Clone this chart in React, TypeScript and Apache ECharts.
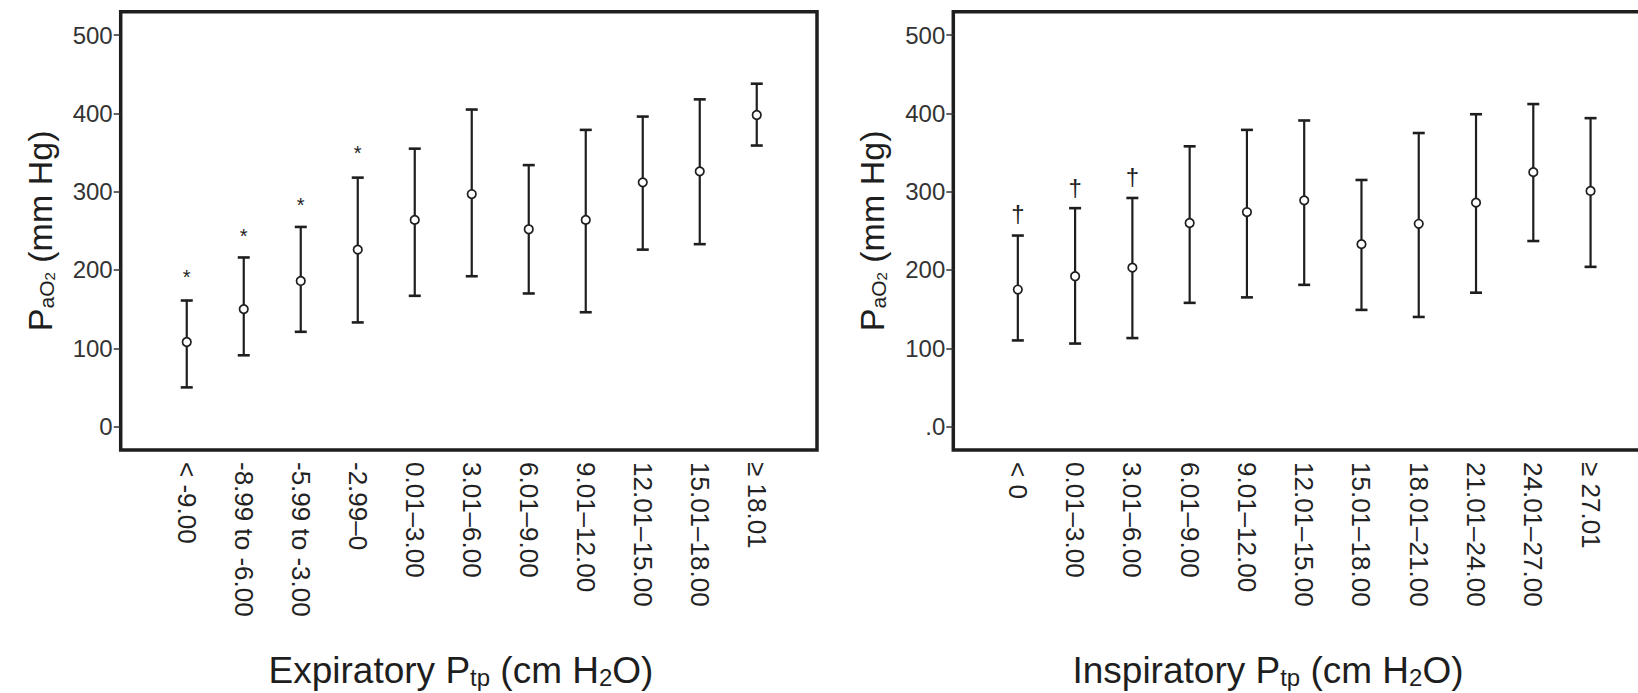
import React, { useEffect, useRef } from 'react';
import * as echarts from 'echarts';

// ---------- data ----------
const expCategories = ['< -9.00', '-8.99 to -6.00', '-5.99 to -3.00', '-2.99–0', '0.01–3.00', '3.01–6.00', '6.01–9.00', '9.01–12.00', '12.01–15.00', '15.01–18.00', '≥ 18.01'];
const expMean = [108, 150, 186, 226, 264, 297, 252, 264, 312, 326, 398];
const expUpper = [161, 216, 255, 318, 355, 405, 334, 379, 396, 418, 438];
const expLower = [50, 91, 121, 133, 167, 192, 170, 146, 226, 233, 359];
const expMarks = ['*', '*', '*', '*', '', '', '', '', '', '', ''];
const expMarkY = [191, 243, 283, 350, 0, 0, 0, 0, 0, 0, 0];

const insCategories = ['< 0', '0.01–3.00', '3.01–6.00', '6.01–9.00', '9.01–12.00', '12.01–15.00', '15.01–18.00', '18.01–21.00', '21.01–24.00', '24.01–27.00', '≥ 27.01'];
const insMean = [175, 192, 203, 260, 274, 289, 233, 259, 286, 325, 301];
const insUpper = [244, 279, 292, 358, 379, 391, 315, 375, 399, 412, 394];
const insLower = [110, 106, 113, 158, 165, 181, 149, 140, 171, 237, 204];
const insMarks = ['†', '†', '†', '', '', '', '', '', '', '', ''];
const insMarkY = [272, 306, 319, 0, 0, 0, 0, 0, 0, 0, 0];

const yTickValues = [0, 100, 200, 300, 400, 500];
const expYTickLabels = ['0', '100', '200', '300', '400', '500'];
const insYTickLabels = ['.0', '100', '200', '300', '400', '500'];
const yMin = -30;
const yMax = 530;

const FONT = 'Liberation Sans, Arial, Helvetica, sans-serif';
const INK = '#1e1e1e';

const nameRich = {
  p: { fontSize: 34, lineHeight: 38, verticalAlign: 'bottom', fontFamily: FONT, color: INK },
  s: { fontSize: 21, lineHeight: 18, verticalAlign: 'bottom', fontFamily: FONT, color: INK },
  ss: { fontSize: 15, lineHeight: 8, verticalAlign: 'bottom', fontFamily: FONT, color: INK },
};
const titleRich = {
  p: { fontSize: 37, lineHeight: 42, verticalAlign: 'bottom', fontFamily: FONT, fill: INK, color: INK },
  s: { fontSize: 24, lineHeight: 18, verticalAlign: 'bottom', fontFamily: FONT, fill: INK, color: INK },
};

function errorBarSeries(xAxisIndex: number, yAxisIndex: number, lower: number[], upper: number[]) {
  return {
    type: 'custom',
    xAxisIndex,
    yAxisIndex,
    clip: false,
    itemStyle: { color: INK },
    data: lower.map((l, i) => [i, l, upper[i]]),
    renderItem: (params: any, api: any) => {
      const lo = api.coord([api.value(0), api.value(1)]);
      const hi = api.coord([api.value(0), api.value(2)]);
      const w = 6;
      const st = { stroke: INK, lineWidth: 2.2 };
      const cap = { stroke: INK, lineWidth: 2.6 };
      return {
        type: 'group',
        children: [
          { type: 'line', shape: { x1: hi[0], y1: hi[1], x2: lo[0], y2: lo[1] }, style: st },
          { type: 'line', shape: { x1: hi[0] - w, y1: hi[1], x2: hi[0] + w, y2: hi[1] }, style: cap },
          { type: 'line', shape: { x1: lo[0] - w, y1: lo[1], x2: lo[0] + w, y2: lo[1] }, style: cap },
        ],
      };
    },
  };
}

function meanSeries(xAxisIndex: number, yAxisIndex: number, mean: number[]) {
  return {
    type: 'scatter',
    xAxisIndex,
    yAxisIndex,
    symbol: 'circle',
    symbolSize: 8.5,
    itemStyle: { color: '#ffffff', borderColor: INK, borderWidth: 1.7, opacity: 1 },
    data: mean.map((m, i) => [i, m]),
    z: 5,
  };
}

function markSeries(xAxisIndex: number, yAxisIndex: number, marks: string[], markY: number[], fontSize: number) {
  return {
    type: 'custom',
    xAxisIndex,
    yAxisIndex,
    clip: false,
    itemStyle: { color: INK },
    data: marks.map((m, i) => [i, markY[i]]).filter((_, i) => marks[i] !== ''),
    renderItem: (params: any, api: any) => {
      const idx = api.value(0);
      const pt = api.coord([idx, api.value(1)]);
      return {
        type: 'text',
        x: pt[0],
        y: pt[1],
        style: {
          text: marks[idx],
          fill: INK,
          font: `${fontSize}px ${FONT}`,
          align: 'center',
          verticalAlign: 'middle',
        },
      };
    },
  };
}

function boxYAxis(gridIndex: number, labels: string[]) {
  return {
    gridIndex,
    type: 'value',
    min: yMin,
    max: yMax,
    position: 'left',
    axisLine: { show: false },
    splitLine: { show: false },
    axisTick: { show: true, length: 7, inside: false, customValues: yTickValues, lineStyle: { color: '#333', width: 1.5 } },
    axisLabel: {
      show: true,
      customValues: yTickValues,
      formatter: (v: number) => labels[yTickValues.indexOf(Math.round(v))] ?? '',
      fontSize: 24,
      fontFamily: FONT,
      color: '#333',
      margin: 8,
    },
    name: '{p|P}{s|aO}{ss|2}{p| (mm Hg)}',
    nameLocation: 'middle',
    nameRotate: 90,
    nameGap: 64,
    nameMoveOverlap: false,
    nameTextStyle: { rich: nameRich, fontFamily: FONT, color: INK },
  };
}

function hiddenYAxis(gridIndex: number) {
  return { gridIndex, type: 'value', min: yMin, max: yMax, show: false };
}

function catXAxis(gridIndex: number, cats: string[]) {
  return {
    gridIndex,
    type: 'category',
    data: cats,
    boundaryGap: true,
    axisLine: { show: false },
    axisTick: { show: false },
    splitLine: { show: false },
    axisLabel: { rotate: -90, fontSize: 26, fontFamily: FONT, color: '#222', margin: 12, interval: 0 },
  };
}

const GRID_TOP = 11.7;
const GRID_H = 438.3;

export default function App() {
  const ref = useRef<HTMLDivElement>(null);
  useEffect(() => {
    document.body.style.margin = '0';
    if (!ref.current) return;
    const chart = echarts.init(ref.current, undefined, { renderer: 'svg' });
    const option: any = {
      animation: false,
      backgroundColor: '#ffffff',
      grid: [
        { left: 120.7, top: GRID_TOP, width: 696.3, height: GRID_H, show: true, borderColor: INK, borderWidth: 3.5, backgroundColor: 'transparent', outerBoundsMode: 'none', containLabel: false },
        { left: 158.25, top: GRID_TOP, width: 627, height: GRID_H, outerBoundsMode: 'none', containLabel: false },
        { left: 953.3, top: GRID_TOP, width: 740, height: GRID_H, show: true, borderColor: INK, borderWidth: 3.5, backgroundColor: 'transparent', outerBoundsMode: 'none', containLabel: false },
        { left: 989.2, top: GRID_TOP, width: 630, height: GRID_H, outerBoundsMode: 'none', containLabel: false },
      ],
      xAxis: [
        { gridIndex: 0, type: 'value', min: 0, max: 1, show: false },
        catXAxis(1, expCategories),
        { gridIndex: 2, type: 'value', min: 0, max: 1, show: false },
        catXAxis(3, insCategories),
      ],
      yAxis: [
        boxYAxis(0, expYTickLabels),
        hiddenYAxis(1),
        boxYAxis(2, insYTickLabels),
        hiddenYAxis(3),
      ],
      series: [
        errorBarSeries(1, 1, expLower, expUpper),
        meanSeries(1, 1, expMean),
        markSeries(1, 1, expMarks, expMarkY, 20),
        errorBarSeries(3, 3, insLower, insUpper),
        meanSeries(3, 3, insMean),
        markSeries(3, 3, insMarks, insMarkY, 24),
      ],
      graphic: [
        {
          type: 'text',
          x: 461,
          y: 689,
          style: {
            text: '{p|Expiratory P}{s|tp}{p| (cm H}{s|2}{p|O)}',
            rich: titleRich,
            align: 'center',
            verticalAlign: 'bottom',
            fill: INK,
            font: `37px ${FONT}`,
          },
        },
        {
          type: 'text',
          x: 1268,
          y: 689,
          style: {
            text: '{p|Inspiratory P}{s|tp}{p| (cm H}{s|2}{p|O)}',
            rich: titleRich,
            align: 'center',
            verticalAlign: 'bottom',
            fill: INK,
            font: `37px ${FONT}`,
          },
        },
      ],
    };
    chart.setOption(option);
    return () => chart.dispose();
  }, []);
  return <div ref={ref} style={{ position: 'absolute', left: 0, top: 0, width: 1638, height: 693 }} />;
}
